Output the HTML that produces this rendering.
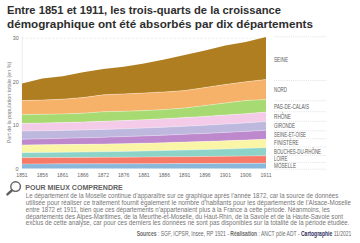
<!DOCTYPE html>
<html><head><meta charset="utf-8"><style>
html,body{margin:0;padding:0;background:#fff;width:360px;height:243px;overflow:hidden}
svg{display:block}
text{font-family:"Liberation Sans",sans-serif}
.title{font-size:11.5px;font-weight:bold;fill:#2e2e2e}
.lg{font-size:6.3px;fill:#5c5c5c}
.ax{font-size:5.4px;fill:#6a6a6a}
.axx{font-size:5.1px;fill:#666}
.ylab{font-size:5.3px;fill:#808080}
.h2{font-size:6.3px;font-weight:bold;fill:#626262}
.body{font-size:6.8px;fill:#767676}
.src{font-size:6.4px;fill:#6a6a6a}
</style></head><body>
<svg width="360" height="243" viewBox="0 0 360 243">
<defs><pattern id="hatch" patternUnits="userSpaceOnUse" width="2.2" height="2.2" patternTransform="rotate(45)"><rect x="0" y="0" width="0.9" height="2.2" fill="#000" fill-opacity="0.07"/></pattern></defs>
<line x1="22" y1="38.3" x2="266" y2="38.3" stroke="#dedede" stroke-width="0.6" stroke-dasharray="2 1.8"/>
<line x1="22.2" y1="36" x2="22.2" y2="168.3" stroke="#e2e2e2" stroke-width="0.7"/>
<polygon points="22.00,83.50 42.33,78.40 62.67,76.20 83.00,72.20 103.33,69.00 123.67,66.80 144.00,63.40 164.33,59.40 184.67,55.00 205.00,50.50 225.33,45.50 245.67,42.00 266.00,37.00 266.00,79.50 245.67,81.75 225.33,84.50 205.00,87.50 184.67,90.60 164.33,91.90 144.00,93.00 123.67,93.90 103.33,94.80 83.00,97.60 62.67,99.20 42.33,100.10 22.00,100.60" fill="#B58222"/>
<polygon points="22.00,83.50 42.33,78.40 62.67,76.20 83.00,72.20 103.33,69.00 123.67,66.80 144.00,63.40 164.33,59.40 184.67,55.00 205.00,50.50 225.33,45.50 245.67,42.00 266.00,37.00 266.00,79.50 245.67,81.75 225.33,84.50 205.00,87.50 184.67,90.60 164.33,91.90 144.00,93.00 123.67,93.90 103.33,94.80 83.00,97.60 62.67,99.20 42.33,100.10 22.00,100.60" fill="url(#hatch)" fill-opacity="1.0"/>
<polygon points="22.00,100.60 42.33,100.10 62.67,99.20 83.00,97.60 103.33,94.80 123.67,93.90 144.00,93.00 164.33,91.90 184.67,90.60 205.00,87.50 225.33,84.50 245.67,81.75 266.00,79.50 266.00,99.50 245.67,100.50 225.33,103.00 205.00,105.50 184.67,108.00 164.33,109.60 144.00,110.60 123.67,111.30 103.33,111.70 83.00,113.20 62.67,113.90 42.33,114.30 22.00,114.60" fill="#F9B46A"/>
<polygon points="22.00,100.60 42.33,100.10 62.67,99.20 83.00,97.60 103.33,94.80 123.67,93.90 144.00,93.00 164.33,91.90 184.67,90.60 205.00,87.50 225.33,84.50 245.67,81.75 266.00,79.50 266.00,99.50 245.67,100.50 225.33,103.00 205.00,105.50 184.67,108.00 164.33,109.60 144.00,110.60 123.67,111.30 103.33,111.70 83.00,113.20 62.67,113.90 42.33,114.30 22.00,114.60" fill="url(#hatch)" fill-opacity="0.4"/>
<polygon points="22.00,114.60 42.33,114.30 62.67,113.90 83.00,113.20 103.33,111.70 123.67,111.30 144.00,110.60 164.33,109.60 184.67,108.00 205.00,105.50 225.33,103.00 245.67,100.50 266.00,99.50 266.00,112.10 245.67,113.64 225.33,115.07 205.00,116.39 184.67,117.60 164.33,118.70 144.00,119.70 123.67,120.59 103.33,121.37 83.00,122.04 62.67,122.60 42.33,123.05 22.00,123.40" fill="#A9DD73"/>
<polygon points="22.00,114.60 42.33,114.30 62.67,113.90 83.00,113.20 103.33,111.70 123.67,111.30 144.00,110.60 164.33,109.60 184.67,108.00 205.00,105.50 225.33,103.00 245.67,100.50 266.00,99.50 266.00,112.10 245.67,113.64 225.33,115.07 205.00,116.39 184.67,117.60 164.33,118.70 144.00,119.70 123.67,120.59 103.33,121.37 83.00,122.04 62.67,122.60 42.33,123.05 22.00,123.40" fill="url(#hatch)" fill-opacity="0.4"/>
<polygon points="22.00,123.40 42.33,123.05 62.67,122.60 83.00,122.04 103.33,121.37 123.67,120.59 144.00,119.70 164.33,118.70 184.67,117.60 205.00,116.39 225.33,115.07 245.67,113.64 266.00,112.10 266.00,121.60 245.67,122.90 225.33,124.11 205.00,125.22 184.67,126.24 164.33,127.17 144.00,128.00 123.67,128.74 103.33,129.38 83.00,129.92 62.67,130.38 42.33,130.74 22.00,131.00" fill="#F6CDEA"/>
<polygon points="22.00,123.40 42.33,123.05 62.67,122.60 83.00,122.04 103.33,121.37 123.67,120.59 144.00,119.70 164.33,118.70 184.67,117.60 205.00,116.39 225.33,115.07 245.67,113.64 266.00,112.10 266.00,121.60 245.67,122.90 225.33,124.11 205.00,125.22 184.67,126.24 164.33,127.17 144.00,128.00 123.67,128.74 103.33,129.38 83.00,129.92 62.67,130.38 42.33,130.74 22.00,131.00" fill="url(#hatch)" fill-opacity="0.3"/>
<polygon points="22.00,131.00 42.33,130.74 62.67,130.38 83.00,129.92 103.33,129.38 123.67,128.74 144.00,128.00 164.33,127.17 184.67,126.24 205.00,125.22 225.33,124.11 245.67,122.90 266.00,121.60 266.00,130.30 245.67,131.39 225.33,132.42 205.00,133.39 184.67,134.29 164.33,135.13 144.00,135.90 123.67,136.61 103.33,137.26 83.00,137.84 62.67,138.36 42.33,138.81 22.00,139.20" fill="#C2BCE3"/>
<polygon points="22.00,131.00 42.33,130.74 62.67,130.38 83.00,129.92 103.33,129.38 123.67,128.74 144.00,128.00 164.33,127.17 184.67,126.24 205.00,125.22 225.33,124.11 245.67,122.90 266.00,121.60 266.00,130.30 245.67,131.39 225.33,132.42 205.00,133.39 184.67,134.29 164.33,135.13 144.00,135.90 123.67,136.61 103.33,137.26 83.00,137.84 62.67,138.36 42.33,138.81 22.00,139.20" fill="url(#hatch)" fill-opacity="0.7"/>
<polygon points="22.00,139.20 42.33,138.81 62.67,138.36 83.00,137.84 103.33,137.26 123.67,136.61 144.00,135.90 164.33,135.13 184.67,134.29 205.00,133.39 225.33,132.42 245.67,131.39 266.00,130.30 266.00,139.20 245.67,140.03 225.33,140.79 205.00,141.49 184.67,142.12 164.33,142.69 144.00,143.20 123.67,143.64 103.33,144.02 83.00,144.34 62.67,144.59 42.33,144.78 22.00,144.90" fill="#C28CD2"/>
<polygon points="22.00,139.20 42.33,138.81 62.67,138.36 83.00,137.84 103.33,137.26 123.67,136.61 144.00,135.90 164.33,135.13 184.67,134.29 205.00,133.39 225.33,132.42 245.67,131.39 266.00,130.30 266.00,139.20 245.67,140.03 225.33,140.79 205.00,141.49 184.67,142.12 164.33,142.69 144.00,143.20 123.67,143.64 103.33,144.02 83.00,144.34 62.67,144.59 42.33,144.78 22.00,144.90" fill="url(#hatch)" fill-opacity="0.8"/>
<polygon points="22.00,144.90 42.33,144.78 62.67,144.59 83.00,144.34 103.33,144.02 123.67,143.64 144.00,143.20 164.33,142.69 184.67,142.12 205.00,141.49 225.33,140.79 245.67,140.03 266.00,139.20 266.00,147.70 245.67,148.36 225.33,148.98 205.00,149.55 184.67,150.08 164.33,150.56 144.00,151.00 123.67,151.39 103.33,151.74 83.00,152.05 62.67,152.31 42.33,152.53 22.00,152.70" fill="#FDF7A8"/>
<polygon points="22.00,144.90 42.33,144.78 62.67,144.59 83.00,144.34 103.33,144.02 123.67,143.64 144.00,143.20 164.33,142.69 184.67,142.12 205.00,141.49 225.33,140.79 245.67,140.03 266.00,139.20 266.00,147.70 245.67,148.36 225.33,148.98 205.00,149.55 184.67,150.08 164.33,150.56 144.00,151.00 123.67,151.39 103.33,151.74 83.00,152.05 62.67,152.31 42.33,152.53 22.00,152.70" fill="url(#hatch)" fill-opacity="0.3"/>
<polygon points="22.00,152.70 42.33,152.53 62.67,152.31 83.00,152.05 103.33,151.74 123.67,151.39 144.00,151.00 164.33,150.56 184.67,150.08 205.00,149.55 225.33,148.98 245.67,148.36 266.00,147.70 266.00,155.80 245.67,156.03 225.33,156.26 205.00,156.46 184.67,156.66 164.33,156.83 144.00,157.00 123.67,157.15 103.33,157.29 83.00,157.41 62.67,157.52 42.33,157.62 22.00,157.70" fill="#90D8CC"/>
<polygon points="22.00,152.70 42.33,152.53 62.67,152.31 83.00,152.05 103.33,151.74 123.67,151.39 144.00,151.00 164.33,150.56 184.67,150.08 205.00,149.55 225.33,148.98 245.67,148.36 266.00,147.70 266.00,155.80 245.67,156.03 225.33,156.26 205.00,156.46 184.67,156.66 164.33,156.83 144.00,157.00 123.67,157.15 103.33,157.29 83.00,157.41 62.67,157.52 42.33,157.62 22.00,157.70" fill="url(#hatch)" fill-opacity="0.7"/>
<polygon points="22.00,157.70 42.33,157.62 62.67,157.52 83.00,157.41 103.33,157.29 123.67,157.15 144.00,157.00 164.33,156.83 184.67,156.66 205.00,156.46 225.33,156.26 245.67,156.03 266.00,155.80 266.00,163.20 245.67,163.30 225.33,163.40 205.00,163.49 184.67,163.57 164.33,163.64 144.00,163.70 123.67,163.75 103.33,163.80 83.00,163.84 62.67,163.87 42.33,163.89 22.00,163.90" fill="#FC7C68"/>
<polygon points="22.00,157.70 42.33,157.62 62.67,157.52 83.00,157.41 103.33,157.29 123.67,157.15 144.00,157.00 164.33,156.83 184.67,156.66 205.00,156.46 225.33,156.26 245.67,156.03 266.00,155.80 266.00,163.20 245.67,163.30 225.33,163.40 205.00,163.49 184.67,163.57 164.33,163.64 144.00,163.70 123.67,163.75 103.33,163.80 83.00,163.84 62.67,163.87 42.33,163.89 22.00,163.90" fill="url(#hatch)" fill-opacity="0.6"/>
<polygon points="22.00,163.90 42.33,163.89 62.67,163.87 83.00,163.84 103.33,163.80 123.67,163.75 144.00,163.70 164.33,163.64 184.67,163.57 205.00,163.49 225.33,163.40 245.67,163.30 266.00,163.20 266.00,168.60 245.67,168.60 225.33,168.60 205.00,168.60 184.67,168.60 164.33,168.60 144.00,168.60 123.67,168.60 103.33,168.60 83.00,168.60 62.67,168.60 42.33,168.60 22.00,168.60" fill="#8CBCE0"/>
<polygon points="22.00,163.90 42.33,163.89 62.67,163.87 83.00,163.84 103.33,163.80 123.67,163.75 144.00,163.70 164.33,163.64 184.67,163.57 205.00,163.49 225.33,163.40 245.67,163.30 266.00,163.20 266.00,168.60 245.67,168.60 225.33,168.60 205.00,168.60 184.67,168.60 164.33,168.60 144.00,168.60 123.67,168.60 103.33,168.60 83.00,168.60 62.67,168.60 42.33,168.60 22.00,168.60" fill="url(#hatch)" fill-opacity="0.8"/>
<polyline points="22.00,100.60 42.33,100.10 62.67,99.20 83.00,97.60 103.33,94.80 123.67,93.90 144.00,93.00 164.33,91.90 184.67,90.60 205.00,87.50 225.33,84.50 245.67,81.75 266.00,79.50" fill="none" stroke="#ffffff" stroke-opacity="0.55" stroke-width="0.6"/>
<polyline points="22.00,114.60 42.33,114.30 62.67,113.90 83.00,113.20 103.33,111.70 123.67,111.30 144.00,110.60 164.33,109.60 184.67,108.00 205.00,105.50 225.33,103.00 245.67,100.50 266.00,99.50" fill="none" stroke="#ffffff" stroke-opacity="0.55" stroke-width="0.6"/>
<polyline points="22.00,123.40 42.33,123.05 62.67,122.60 83.00,122.04 103.33,121.37 123.67,120.59 144.00,119.70 164.33,118.70 184.67,117.60 205.00,116.39 225.33,115.07 245.67,113.64 266.00,112.10" fill="none" stroke="#ffffff" stroke-opacity="0.55" stroke-width="0.6"/>
<polyline points="22.00,131.00 42.33,130.74 62.67,130.38 83.00,129.92 103.33,129.38 123.67,128.74 144.00,128.00 164.33,127.17 184.67,126.24 205.00,125.22 225.33,124.11 245.67,122.90 266.00,121.60" fill="none" stroke="#ffffff" stroke-opacity="0.55" stroke-width="0.6"/>
<polyline points="22.00,139.20 42.33,138.81 62.67,138.36 83.00,137.84 103.33,137.26 123.67,136.61 144.00,135.90 164.33,135.13 184.67,134.29 205.00,133.39 225.33,132.42 245.67,131.39 266.00,130.30" fill="none" stroke="#ffffff" stroke-opacity="0.55" stroke-width="0.6"/>
<polyline points="22.00,144.90 42.33,144.78 62.67,144.59 83.00,144.34 103.33,144.02 123.67,143.64 144.00,143.20 164.33,142.69 184.67,142.12 205.00,141.49 225.33,140.79 245.67,140.03 266.00,139.20" fill="none" stroke="#ffffff" stroke-opacity="0.55" stroke-width="0.6"/>
<polyline points="22.00,152.70 42.33,152.53 62.67,152.31 83.00,152.05 103.33,151.74 123.67,151.39 144.00,151.00 164.33,150.56 184.67,150.08 205.00,149.55 225.33,148.98 245.67,148.36 266.00,147.70" fill="none" stroke="#ffffff" stroke-opacity="0.55" stroke-width="0.6"/>
<polyline points="22.00,157.70 42.33,157.62 62.67,157.52 83.00,157.41 103.33,157.29 123.67,157.15 144.00,157.00 164.33,156.83 184.67,156.66 205.00,156.46 225.33,156.26 245.67,156.03 266.00,155.80" fill="none" stroke="#ffffff" stroke-opacity="0.55" stroke-width="0.6"/>
<polyline points="22.00,163.90 42.33,163.89 62.67,163.87 83.00,163.84 103.33,163.80 123.67,163.75 144.00,163.70 164.33,163.64 184.67,163.57 205.00,163.49 225.33,163.40 245.67,163.30 266.00,163.20" fill="none" stroke="#ffffff" stroke-opacity="0.55" stroke-width="0.6"/>
<line x1="274" y1="36.75" x2="327" y2="36.75" stroke="#c8c8c8" stroke-width="0.6" stroke-dasharray="0.8 1.1"/>
<line x1="274" y1="80.5" x2="327" y2="80.5" stroke="#c8c8c8" stroke-width="0.6" stroke-dasharray="0.8 1.1"/>
<line x1="274" y1="100.8" x2="327" y2="100.8" stroke="#c8c8c8" stroke-width="0.6" stroke-dasharray="0.8 1.1"/>
<line x1="274" y1="111.7" x2="327" y2="111.7" stroke="#c8c8c8" stroke-width="0.6" stroke-dasharray="0.8 1.1"/>
<line x1="274" y1="121.3" x2="327" y2="121.3" stroke="#c8c8c8" stroke-width="0.6" stroke-dasharray="0.8 1.1"/>
<line x1="274" y1="130.8" x2="327" y2="130.8" stroke="#c8c8c8" stroke-width="0.6" stroke-dasharray="0.8 1.1"/>
<line x1="274" y1="138.7" x2="327" y2="138.7" stroke="#c8c8c8" stroke-width="0.6" stroke-dasharray="0.8 1.1"/>
<line x1="274" y1="147" x2="327" y2="147" stroke="#c8c8c8" stroke-width="0.6" stroke-dasharray="0.8 1.1"/>
<line x1="274" y1="155.3" x2="327" y2="155.3" stroke="#c8c8c8" stroke-width="0.6" stroke-dasharray="0.8 1.1"/>
<line x1="274" y1="162.4" x2="327" y2="162.4" stroke="#c8c8c8" stroke-width="0.6" stroke-dasharray="0.8 1.1"/>
<line x1="274" y1="169.2" x2="327" y2="169.2" stroke="#c8c8c8" stroke-width="0.6" stroke-dasharray="0.8 1.1"/>
<text x="274" y="61.7" textLength="14" lengthAdjust="spacingAndGlyphs" class="lg">SEINE</text>
<text x="274" y="91.7" textLength="13" lengthAdjust="spacingAndGlyphs" class="lg">NORD</text>
<text x="274" y="108.8" textLength="35" lengthAdjust="spacingAndGlyphs" class="lg">PAS-DE-CALAIS</text>
<text x="274" y="119.2" textLength="17" lengthAdjust="spacingAndGlyphs" class="lg">RHÔNE</text>
<text x="274" y="127.8" textLength="21" lengthAdjust="spacingAndGlyphs" class="lg">GIRONDE</text>
<text x="274" y="136.5" textLength="32" lengthAdjust="spacingAndGlyphs" class="lg">SEINE-ET-OISE</text>
<text x="274" y="145.2" textLength="24.7" lengthAdjust="spacingAndGlyphs" class="lg">FINISTÈRE</text>
<text x="274" y="153.7" textLength="47" lengthAdjust="spacingAndGlyphs" class="lg">BOUCHES-DU-RHÔNE</text>
<text x="274" y="160.6" textLength="13.6" lengthAdjust="spacingAndGlyphs" class="lg">LOIRE</text>
<text x="274" y="167.8" textLength="22" lengthAdjust="spacingAndGlyphs" class="lg">MOSELLE</text>
<text x="18.7" y="40.099999999999994" text-anchor="end" class="ax">30</text>
<text x="18.7" y="83.5" text-anchor="end" class="ax">20</text>
<text x="18.7" y="126.8" text-anchor="end" class="ax">10</text>
<text x="18.6" y="171.3" text-anchor="end" class="ax">0</text>
<text x="22.00" y="176.6" text-anchor="middle" class="axx">1851</text>
<text x="42.33" y="176.6" text-anchor="middle" class="axx">1856</text>
<text x="62.67" y="176.6" text-anchor="middle" class="axx">1861</text>
<text x="83.00" y="176.6" text-anchor="middle" class="axx">1866</text>
<text x="103.33" y="176.6" text-anchor="middle" class="axx">1872</text>
<text x="123.67" y="176.6" text-anchor="middle" class="axx">1876</text>
<text x="144.00" y="176.6" text-anchor="middle" class="axx">1881</text>
<text x="164.33" y="176.6" text-anchor="middle" class="axx">1886</text>
<text x="184.67" y="176.6" text-anchor="middle" class="axx">1891</text>
<text x="205.00" y="176.6" text-anchor="middle" class="axx">1896</text>
<text x="225.33" y="176.6" text-anchor="middle" class="axx">1901</text>
<text x="245.67" y="176.6" text-anchor="middle" class="axx">1906</text>
<text x="266.00" y="176.6" text-anchor="middle" class="axx">1911</text>
<text transform="translate(11.2,102.5) rotate(-90)" text-anchor="middle" class="ylab" textLength="81.5" lengthAdjust="spacingAndGlyphs">Part de la population totale (en %)</text>
<text x="7" y="14" class="title" textLength="274" lengthAdjust="spacingAndGlyphs">Entre 1851 et 1911, les trois-quarts de la croissance</text>
<text x="7" y="27.8" class="title" textLength="306" lengthAdjust="spacingAndGlyphs">démographique ont été absorbés par dix départements</text>
<circle cx="15.6" cy="186.6" r="4.8" fill="none" stroke="#606060" stroke-width="1.4"/><path d="M12.7,185.3 A3.1,3.1 0 0 1 14.5,183.3" fill="none" stroke="#c4c4c4" stroke-width="0.6"/>
<line x1="11.8" y1="190.5" x2="7.4" y2="194.4" stroke="#606060" stroke-width="2.4" stroke-linecap="round"/>
<text x="25.2" y="189.8" class="h2" textLength="97.6" lengthAdjust="spacingAndGlyphs">POUR MIEUX COMPRENDRE</text>
<text x="25.8" y="198.4" class="body" textLength="312.5" lengthAdjust="spacingAndGlyphs">Le département de la Moselle continue d’apparaître sur ce graphique après l’année 1872, car la source de données</text>
<text x="25.8" y="204.9" class="body" textLength="325.2" lengthAdjust="spacingAndGlyphs">utilisée pour réaliser ce traitement fournit également le nombre d’habitants pour les départements de l’Alsace-Moselle</text>
<text x="25.8" y="211.7" class="body" textLength="304.1" lengthAdjust="spacingAndGlyphs">entre 1872 et 1911, bien que ces départements n’appartenaient plus à la France à cette période. Néanmoins, les</text>
<text x="25.8" y="218.5" class="body" textLength="317.2" lengthAdjust="spacingAndGlyphs">départements des Alpes-Maritimes, de la Meurthe-et-Moselle, du Haut-Rhin, de la Savoie et de la Haute-Savoie sont</text>
<text x="25.8" y="225.2" class="body" textLength="323.7" lengthAdjust="spacingAndGlyphs">exclus de cette analyse, car pour ces derniers les données ne sont pas disponibles sur la totalité de la période étudiée.</text>
<text x="136.7" y="236.4" class="src" textLength="214.7" lengthAdjust="spacingAndGlyphs"><tspan font-weight="bold">Sources</tspan> : SGF, ICPSR, Insee, RP 1921 - <tspan font-weight="bold">Réalisation</tspan> : ANCT pôle ADT - <tspan font-weight="bold" fill="#2d2d5e">Cartographie</tspan> 11/2021</text>
</svg></body></html>
